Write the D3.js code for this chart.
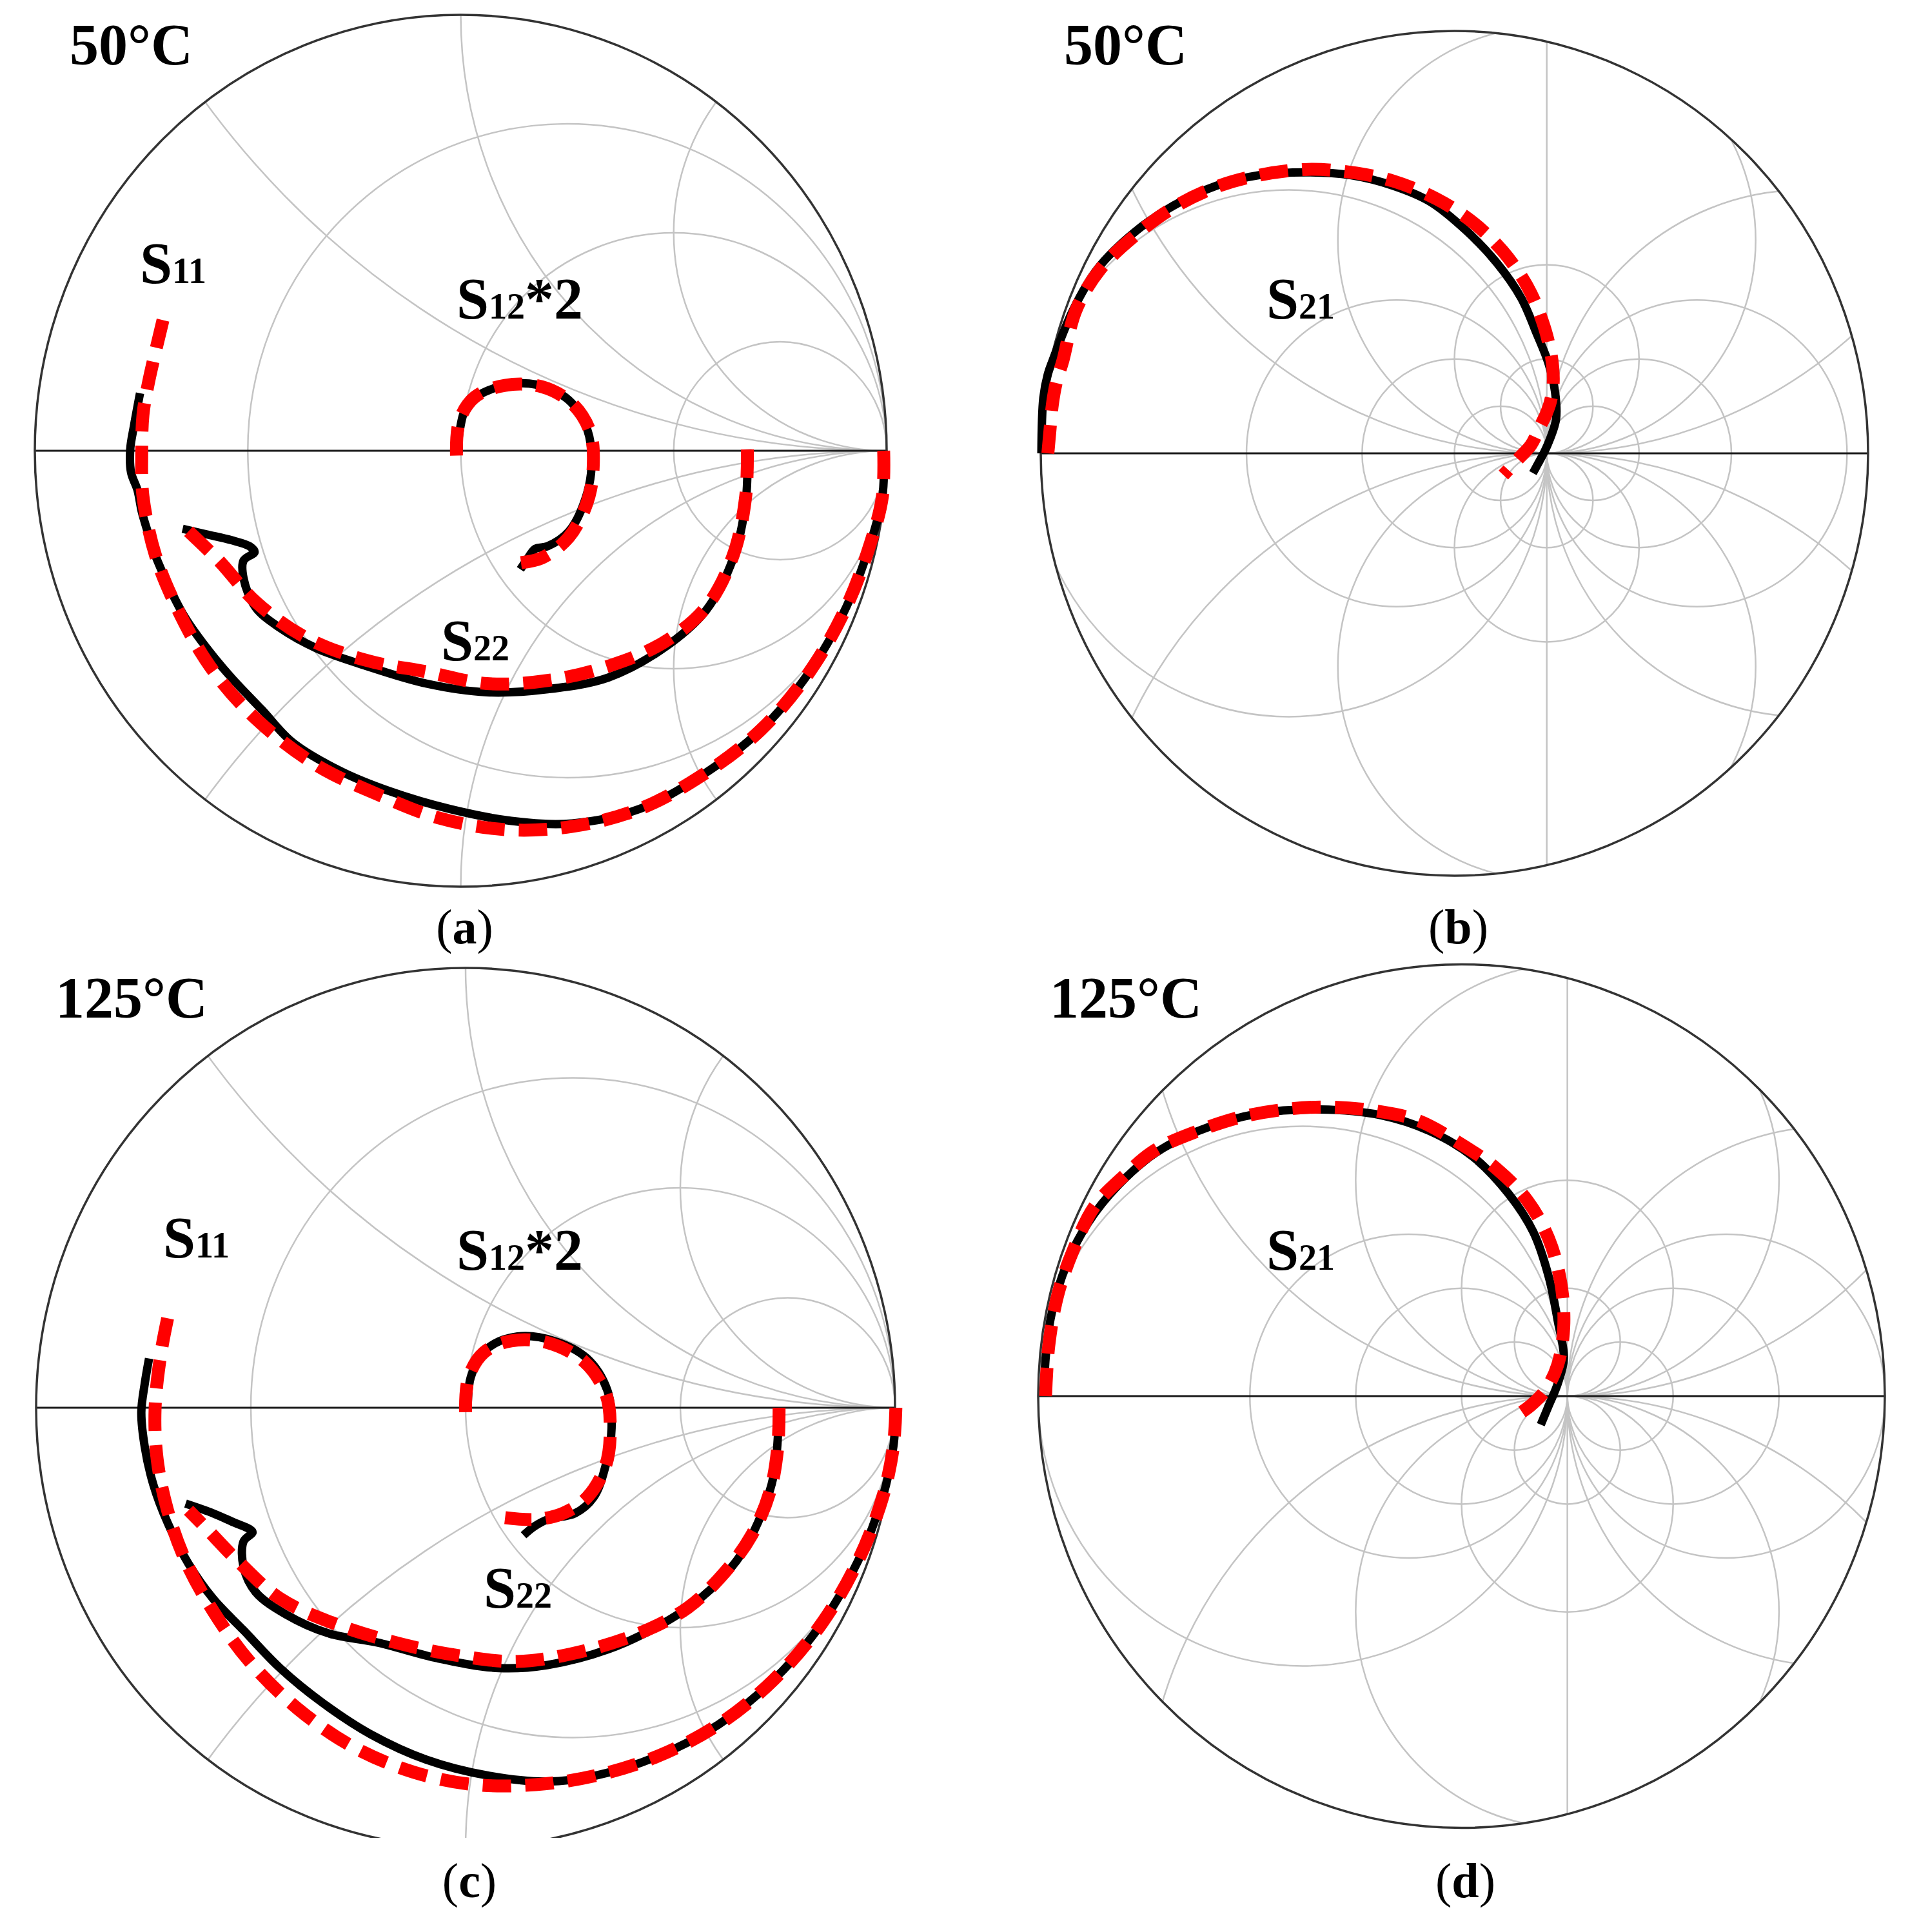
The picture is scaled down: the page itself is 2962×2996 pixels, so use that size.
<!DOCTYPE html>
<html>
<head>
<meta charset="utf-8">
<script src="https://cdn.jsdelivr.net/npm/d3@7"></script>
<style>
body{margin:0;background:#fff}
text{font-family:"Liberation Serif","Times New Roman",serif}
</style>
</head>
<body>
<svg id="fig"></svg>
<script>
// ---- data: reflection / transmission points as [re, im] ----
// 50°C
var s11Meas50  = [[0.993,0.0],[0.990,-0.105],[0.962,-0.212],[0.905,-0.359],[0.819,-0.507],[0.704,-0.641],[0.561,-0.748],[0.419,-0.822],[0.261,-0.855],[0.119,-0.849],[-0.025,-0.822],[-0.167,-0.781],[-0.282,-0.735],[-0.396,-0.668],[-0.467,-0.594],[-0.539,-0.520],[-0.596,-0.453],[-0.653,-0.373],[-0.718,-0.238],[-0.734,-0.189],[-0.749,-0.139],[-0.759,-0.090],[-0.774,-0.050],[-0.776,0.003],[-0.767,0.058],[-0.753,0.132]];
var s11Model50 = [[0.993,0.0],[0.990,-0.105],[0.962,-0.212],[0.905,-0.359],[0.819,-0.507],[0.704,-0.641],[0.561,-0.748],[0.419,-0.822],[0.261,-0.862],[0.104,-0.869],[-0.053,-0.842],[-0.196,-0.788],[-0.339,-0.721],[-0.482,-0.614],[-0.589,-0.494],[-0.667,-0.359],[-0.717,-0.239],[-0.746,-0.105],[-0.749,-0.006],[-0.746,0.083],[-0.733,0.157],[-0.699,0.300]];
var s22Meas50  = [[0.673,0.003],[0.669,-0.118],[0.640,-0.246],[0.576,-0.366],[0.476,-0.453],[0.347,-0.520],[0.204,-0.547],[0.061,-0.554],[-0.081,-0.534],[-0.224,-0.493],[-0.339,-0.453],[-0.425,-0.406],[-0.482,-0.359],[-0.510,-0.292],[-0.510,-0.252],[-0.484,-0.232],[-0.496,-0.219],[-0.539,-0.205],[-0.596,-0.192],[-0.653,-0.179]];
var s22Model50 = [[0.673,0.003],[0.669,-0.105],[0.640,-0.239],[0.576,-0.359],[0.476,-0.440],[0.347,-0.494],[0.204,-0.527],[0.061,-0.534],[-0.081,-0.507],[-0.225,-0.480],[-0.367,-0.427],[-0.482,-0.346],[-0.567,-0.253],[-0.653,-0.172]];
var s12Meas50  = [[-0.005,-0.005],[-0.003,0.043],[0.019,0.109],[0.090,0.147],[0.176,0.152],[0.254,0.116],[0.297,0.049],[0.307,-0.038],[0.290,-0.118],[0.254,-0.185],[0.204,-0.219],[0.175,-0.225],[0.154,-0.252],[0.140,-0.272]];
var s12Model50 = [[-0.010,-0.011],[-0.003,0.069],[0.033,0.123],[0.104,0.150],[0.190,0.147],[0.261,0.109],[0.304,0.043],[0.311,-0.038],[0.297,-0.118],[0.254,-0.198],[0.190,-0.246],[0.119,-0.259]];
var s21Meas50  = [[-4.473,0.0],[-4.452,0.588],[-4.403,0.841],[-4.354,0.978],[-4.128,1.525],[-3.865,1.958],[-3.468,2.343],[-3.041,2.628],[-2.580,2.838],[-2.115,2.950],[-1.587,2.981],[-1.125,2.950],[-0.663,2.838],[-0.267,2.671],[0.129,2.361],[0.459,2.020],[0.723,1.648],[0.888,1.277],[1.02,0.95],[1.09,0.65],[1.10,0.36],[1.00,0.07],[0.90,-0.12],[0.85,-0.21]];
var s21Model50 = [[-4.403,0.0],[-4.382,0.226],[-4.354,0.520],[-4.312,0.752],[-4.242,0.978],[-4.096,1.525],[-3.832,1.958],[-3.435,2.330],[-3.039,2.609],[-2.578,2.826],[-2.115,2.950],[-1.587,3.012],[-1.125,2.981],[-0.663,2.888],[-0.201,2.702],[0.195,2.454],[0.524,2.144],[0.789,1.773],[0.953,1.401],[1.05,1.03],[1.07,0.75],[1.04,0.55],[0.99,0.41],[0.93,0.29],[0.83,0.09],[0.70,-0.05],[0.53,-0.23]];
// 125°C
var s11Meas125  = [[1.002,0.0],[0.996,-0.089],[0.971,-0.204],[0.914,-0.348],[0.829,-0.491],[0.716,-0.620],[0.588,-0.721],[0.446,-0.793],[0.305,-0.836],[0.191,-0.850],[0.050,-0.836],[-0.092,-0.800],[-0.220,-0.743],[-0.333,-0.671],[-0.432,-0.592],[-0.517,-0.506],[-0.588,-0.434],[-0.645,-0.355],[-0.694,-0.261],[-0.727,-0.175],[-0.747,-0.089],[-0.755,-0.010],[-0.747,0.055],[-0.737,0.112]];
var s11Model125 = [[1.002,0.0],[0.996,-0.089],[0.971,-0.204],[0.914,-0.348],[0.829,-0.491],[0.716,-0.620],[0.588,-0.721],[0.446,-0.793],[0.305,-0.836],[0.163,-0.857],[0.021,-0.857],[-0.120,-0.829],[-0.262,-0.771],[-0.390,-0.685],[-0.503,-0.577],[-0.588,-0.462],[-0.652,-0.348],[-0.694,-0.233],[-0.718,-0.118],[-0.723,-0.003],[-0.709,0.126],[-0.687,0.234]];
var s22Meas125  = [[0.730,0.0],[0.719,-0.147],[0.687,-0.247],[0.631,-0.348],[0.546,-0.434],[0.446,-0.498],[0.333,-0.549],[0.191,-0.585],[0.078,-0.592],[-0.064,-0.570],[-0.205,-0.534],[-0.319,-0.513],[-0.418,-0.470],[-0.489,-0.419],[-0.517,-0.362],[-0.517,-0.304],[-0.496,-0.283],[-0.503,-0.276],[-0.539,-0.261],[-0.588,-0.240],[-0.652,-0.218]];
var s22Model125 = [[0.730,0.0],[0.727,-0.089],[0.709,-0.190],[0.666,-0.290],[0.602,-0.376],[0.517,-0.455],[0.404,-0.513],[0.262,-0.556],[0.121,-0.577],[-0.021,-0.563],[-0.163,-0.534],[-0.305,-0.491],[-0.432,-0.434],[-0.531,-0.348],[-0.602,-0.276],[-0.645,-0.233]];
var s12Meas125  = [[0.005,-0.005],[0.012,0.069],[0.050,0.134],[0.121,0.162],[0.206,0.152],[0.283,0.112],[0.330,0.040],[0.340,-0.046],[0.326,-0.132],[0.298,-0.204],[0.255,-0.240],[0.191,-0.254],[0.160,-0.270],[0.135,-0.290]];
var s12Model125 = [[0.0,-0.010],[0.007,0.069],[0.043,0.126],[0.106,0.152],[0.191,0.148],[0.276,0.105],[0.326,0.033],[0.337,-0.046],[0.326,-0.132],[0.283,-0.204],[0.227,-0.240],[0.163,-0.254],[0.092,-0.250]];
var s21Meas125  = [[-3.943,0.0],[-3.93,0.35],[-3.874,0.76],[-3.729,1.227],[-3.527,1.608],[-3.24,1.958],[-2.894,2.251],[-2.491,2.456],[-1.914,2.619],[-1.338,2.655],[-0.762,2.602],[-0.301,2.456],[0.103,2.222],[0.448,1.871],[0.679,1.520],[0.823,1.110],[0.909,0.700],[0.967,0.349],[0.909,0.115],[0.823,-0.090],[0.749,-0.265]];
var s21Model125 = [[-3.93,0.0],[-3.90,0.466],[-3.816,0.934],[-3.672,1.344],[-3.470,1.754],[-3.182,2.046],[-2.894,2.280],[-2.491,2.456],[-2.087,2.585],[-1.626,2.661],[-1.222,2.678],[-0.819,2.643],[-0.416,2.555],[-0.012,2.339],[0.334,2.104],[0.622,1.812],[0.823,1.461],[0.938,1.051],[0.966,0.642],[0.909,0.290],[0.794,0.057],[0.649,-0.090],[0.477,-0.207]];

// smith grid values (normalised resistance r, reactance x)
var rGridRefl = [1/3, 1, 3];
var xGridRefl = [0.5, 1, 2];
// transmission charts also show negative-r circles, mirrored about r = -1
var rGridTrans50  = [1, 0, -0.385, -0.642];
var xGridTrans50  = [2, 1, 0.442, 0.2];
var rGridTrans125 = [1, 0, -1/3, -0.6];
var xGridTrans125 = [2, 1, 0.5, 0.25];

var W = 2962, H = 2996;
var svg = d3.select("#fig").attr("width", W).attr("height", H);
svg.append("rect").attr("width", W).attr("height", H).attr("fill", "#fff");
var defs = svg.append("defs");

var panels = [
  {id:"a", cx:714.5, cy:699, rx:660.5, ry:676, R:1, temp:"50°C", tx:108, ty:100, ly:1463,
   rGrid:rGridRefl, xGrid:xGridRefl, mirror:false,
   series:[[s11Meas50,s11Model50],[s22Meas50,s22Model50],[s12Meas50,s12Model50]],
   labels:[{x:217,y:439,m:"S",s:"11",t:""},{x:708,y:494,m:"S",s:"12",t:"*2"},{x:684,y:1024,m:"S",s:"22",t:""}]},
  {id:"b", cx:2255.5, cy:703, rx:641.5, ry:655, R:4.48, temp:"50°C", tx:1650, ty:100, ly:1463,
   rGrid:rGridTrans50, xGrid:xGridTrans50, mirror:true,
   series:[[s21Meas50,s21Model50]],
   labels:[{x:1964,y:494,m:"S",s:"21",t:""}]},
  {id:"c", cx:722, cy:2183, rx:666, ry:682, R:1, temp:"125°C", tx:86, ty:1578, ly:2942, cut:2850,
   rGrid:rGridRefl, xGrid:xGridRefl, mirror:false,
   series:[[s11Meas125,s11Model125],[s22Meas125,s22Model125],[s12Meas125,s12Model125]],
   labels:[{x:253,y:1950,m:"S",s:"11",t:""},{x:708,y:1969,m:"S",s:"12",t:"*2"},{x:750,y:2493,m:"S",s:"22",t:""}]},
  {id:"d", cx:2266.5, cy:2165, rx:656.5, ry:669.5, R:4.0, temp:"125°C", tx:1628, ty:1578, ly:2942,
   rGrid:rGridTrans125, xGrid:xGridTrans125, mirror:true,
   series:[[s21Meas125,s21Model125]],
   labels:[{x:1964,y:1969,m:"S",s:"21",t:""}]}
];

panels.forEach(drawPanel);

function drawPanel(p) {
  var x = d3.scaleLinear().domain([-p.R, p.R]).range([p.cx - p.rx, p.cx + p.rx]);
  var y = d3.scaleLinear().domain([-p.R, p.R]).range([p.cy + p.ry, p.cy - p.ry]);

  defs.append("clipPath").attr("id", "in-" + p.id)
    .append("ellipse").attr("cx", p.cx).attr("cy", p.cy).attr("rx", p.rx).attr("ry", p.ry);
  var outer = svg.append("g");
  if (p.cut) {
    // the lower edge of this chart is covered in the original figure
    defs.append("clipPath").attr("id", "cut-" + p.id)
      .append("rect").attr("x", 0).attr("y", 0).attr("width", W).attr("height", p.cut);
    outer.attr("clip-path", "url(#cut-" + p.id + ")");
  }
  var grid = outer.append("g").attr("clip-path", "url(#in-" + p.id + ")")
    .attr("fill", "none").attr("stroke", "#c4c4c4").attr("stroke-width", 2.5);

  // constant resistance and reactance circles
  var rAll = p.rGrid.slice();
  if (p.mirror) p.rGrid.forEach(function(r) { rAll.push(-2 - r); });
  var circles = [];
  rAll.forEach(function(r) {
    circles.push({c:[r / (r + 1), 0], rho:1 / Math.abs(r + 1)});
  });
  p.xGrid.forEach(function(v) {
    circles.push({c:[1, 1 / v], rho:1 / v});
    circles.push({c:[1, -1 / v], rho:1 / v});
  });
  grid.selectAll("ellipse").data(circles).enter().append("ellipse")
    .attr("cx", function(d) { return x(d.c[0]); })
    .attr("cy", function(d) { return y(d.c[1]); })
    .attr("rx", function(d) { return x(d.c[0] + d.rho) - x(d.c[0]); })
    .attr("ry", function(d) { return y(d.c[1]) - y(d.c[1] + d.rho); });
  if (p.mirror) {
    // r = -1 degenerates to a straight line through the open-circuit point
    grid.append("line").attr("x1", x(1)).attr("x2", x(1))
      .attr("y1", y(p.R)).attr("y2", y(-p.R));
  }

  // real axis and rim
  outer.append("line").attr("x1", x(-p.R)).attr("x2", x(p.R))
    .attr("y1", y(0)).attr("y2", y(0)).attr("stroke", "#1a1a1a").attr("stroke-width", 3);
  outer.append("ellipse").attr("cx", p.cx).attr("cy", p.cy).attr("rx", p.rx).attr("ry", p.ry)
    .attr("fill", "none").attr("stroke", "#333").attr("stroke-width", 3.5);

  var line = d3.line().x(function(d) { return x(d[0]); }).y(function(d) { return y(d[1]); })
    .curve(d3.curveCatmullRom.alpha(0.5));

  // measured (solid black) under modelled (red dashed)
  p.series.forEach(function(s) {
    outer.append("path").attr("d", line(s[0])).attr("fill", "none")
      .attr("stroke", "#000").attr("stroke-width", 13).attr("stroke-linejoin", "round");
  });
  p.series.forEach(function(s) {
    outer.append("path").attr("d", line(s[1])).attr("fill", "none")
      .attr("stroke", "#ff0000").attr("stroke-width", 20)
      .attr("stroke-dasharray", "44 22");
  });

  p.labels.forEach(function(l) {
    var t = outer.append("text").attr("x", l.x).attr("y", l.y)
      .attr("font-weight", "bold").attr("font-size", 90).attr("fill", "#000");
    t.append("tspan").text(l.m);
    t.append("tspan").attr("font-size", 56).text(l.s);
    if (l.t) t.append("tspan").text(l.t);
  });

  svg.append("text").attr("x", p.tx).attr("y", p.ty).attr("font-weight", "bold")
    .attr("font-size", 90).text(p.temp);
  var lt = svg.append("text").attr("x", p.cx + 6).attr("y", p.ly)
    .attr("text-anchor", "middle").attr("font-size", 76);
  lt.append("tspan").text("(");
  lt.append("tspan").attr("font-weight", "bold").text(p.id);
  lt.append("tspan").text(")");
}
</script>
</body>
</html>
